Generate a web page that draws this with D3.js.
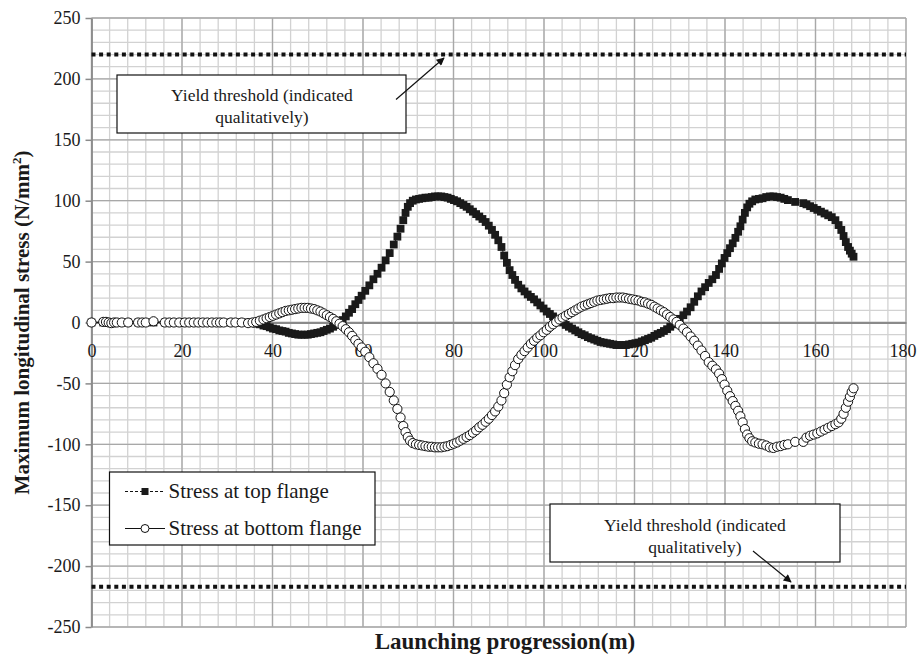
<!DOCTYPE html>
<html>
<head>
<meta charset="utf-8">
<script src="https://cdn.jsdelivr.net/npm/d3@7"></script>
<style>
  body { margin: 0; background: #fff; }
  svg text { font-family: "Liberation Serif", "Times New Roman", serif; fill: #1a1a1a; }
</style>
</head>
<body>
<svg id="chart" width="917" height="663"></svg>
<script>
// Launching progression (m) at each analysis step
const positions = [
  0, 2.6, 3.2, 3.8, 4.4, 5.0, 5.6, 6.7, 8.1, 10.3, 11.2, 12.0, 13.7, 16.2, 17.2, 18.2, 19.4, 20.6, 21.6, 22.6,
  23.6, 24.6, 25.6, 26.6, 27.6, 28.4, 29.2, 30.8, 31.8, 33.2, 34.6, 35.6, 36.4, 37.2, 38.0, 38.7, 39.4, 40.1, 40.8, 41.5,
  42.2, 42.9, 43.6, 44.3, 45.0, 45.7, 46.4, 47.1, 47.8, 48.5, 49.2, 49.9, 50.6, 51.3, 52.0, 52.7, 53.4, 54.1, 54.8, 55.5,
  56.2, 56.9, 57.6, 58.3, 59.0, 59.7, 60.5, 61.4, 62.3, 63.2, 64.1, 65.0, 65.9, 66.8, 67.6, 68.3, 68.9, 69.4, 69.9, 70.4,
  71.0, 71.7, 72.4, 73.1, 73.8, 74.5, 75.2, 75.9, 76.6, 77.3, 78.0, 78.7, 79.4, 80.1, 80.8, 81.5, 82.2, 82.9, 83.6, 84.3,
  85.0, 85.7, 86.4, 87.1, 87.8, 88.5, 89.2, 89.9, 90.6, 91.2, 91.8, 92.4, 93.0, 93.6, 94.3, 95.0, 95.7, 96.4, 97.1, 97.8,
  98.5, 99.2, 99.9, 100.6, 101.3, 102.0, 102.7, 103.4, 104.1, 104.8, 105.5, 106.2, 106.9, 107.6, 108.3, 109.0, 109.7, 110.4, 111.1, 111.8,
  112.5, 113.2, 113.9, 114.6, 115.3, 116.0, 116.7, 117.4, 118.1, 118.8, 119.5, 120.2, 120.9, 121.6, 122.3, 123.0, 123.7, 124.4, 125.1, 125.8,
  126.5, 127.2, 127.9, 128.6, 129.3, 130.0, 130.8, 131.6, 132.4, 133.2, 134.0, 134.8, 135.6, 136.4, 137.2, 138.0, 138.7, 139.3, 139.9, 140.5,
  141.1, 141.7, 142.3, 142.9, 143.4, 143.9, 144.4, 144.9, 145.4, 146.0, 146.7, 147.5, 148.3, 149.1, 149.9, 150.7, 151.5, 152.3, 153.1, 153.9,
  155.5, 157.3, 158.0, 158.8, 159.6, 160.4, 161.2, 162.0, 162.8, 163.6, 164.4, 165.1, 165.7, 166.2, 166.7, 167.2, 167.6, 168.0, 168.4
];

// Maximum longitudinal stress at the top flange (N/mm²)
const topFlange = [
  0, 0, 0, 0, 0, 0, 0, 0, 0, 0, 0, 0, 0, 0, 0, 0, 0, 0, 0, 0,
  0, 0, 0, 0, 0, 0, 0, 0, 0, 0, 0, -0.5, -1, -1.5, -2.5, -3, -4, -5, -5.5, -6.5,
  -7, -7.5, -8.5, -9, -9.5, -10, -10, -10, -10, -9.5, -9, -8.5, -8, -7, -6, -5, -3.5, -2, 0, 2,
  5, 8, 11, 15, 18.5, 22, 26, 30.5, 35.5, 40, 45, 51, 57, 64, 70.5, 77, 84, 90, 95, 98,
  100, 101, 101.5, 102, 102.5, 102.5, 103, 103.5, 103.5, 103.5, 103, 102.5, 101.5, 100.5, 99.5, 98, 96.5, 95, 93, 91,
  89, 87, 85, 82.5, 79.5, 76, 72, 67.5, 62, 55, 49, 43, 39, 35, 31, 28, 25.5, 23, 21, 19,
  16.5, 14, 11.5, 9, 7, 5, 3, 1.5, 0, -2, -3.5, -5, -6.5, -8, -9.5, -10.5, -12, -13, -14, -15,
  -16, -16.5, -17, -17.5, -18, -18.5, -18.5, -18.5, -18.5, -18, -17.5, -17, -16.5, -15.5, -14.5, -13.5, -12.5, -11, -9.5, -8.5,
  -7, -5.5, -3.5, -1.5, 0.5, 3, 6, 9, 12.5, 17, 21.5, 25.5, 29, 32.5, 35.5, 39, 44, 48.5, 53, 57,
  61, 65, 69.5, 74.5, 79, 84.5, 90, 94.5, 97.5, 99.5, 101, 101.5, 102, 103, 103.5, 103.5, 103, 102.5, 101.5, 100.5,
  99, 98, 97, 95.5, 94, 92.5, 91, 89.5, 88, 86.5, 84, 80, 76, 71, 66, 62, 59, 56.5, 54
];

// Maximum longitudinal stress at the bottom flange (N/mm²)
const bottomFlange = [
  0, 0.5, 0.5, 0, -0.5, 0, 0, 0, 0, 0, 0, 0, 1, 0, 0, 0, 0, 0, 0, 0,
  0, 0, 0, 0, 0, 0, 0, 0, 0, 0, -0.5, 0, 0.5, 1.5, 2.5, 3.5, 4.5, 5.5, 6.5, 7.5,
  8.5, 9.5, 10, 10.5, 11, 11.5, 12, 12, 12, 11.5, 11, 10, 9, 7.5, 6, 4.5, 3, 1, -1, -3,
  -5.5, -8, -11, -14.5, -17.5, -20.5, -24, -28.5, -33.5, -38, -43, -50, -57, -64, -71, -78, -85, -90, -94, -97,
  -99, -100, -100.5, -101, -101.5, -102, -102, -102.5, -102.5, -102.5, -102, -101.5, -100.5, -99.5, -98.5, -97, -95.5, -94, -92.5, -90.5,
  -88.5, -86, -84, -81.5, -79, -76, -73, -69, -64, -58, -51, -45, -40, -35, -30, -26.5, -23.5, -20.5, -17.5, -15,
  -12.5, -10.5, -8, -6, -3.5, -1.5, 0.5, 2.5, 4, 5.5, 7, 8.5, 10, 11.5, 13, 14, 15, 16, 17, 18,
  18.5, 19, 19.5, 20, 20, 20.5, 20.5, 20.5, 20, 19.5, 19, 18.5, 18, 17, 16.5, 15.5, 14.5, 13, 11.5, 10,
  8.5, 6.5, 4.5, 2.5, 0.5, -2, -5, -8, -11.5, -15, -19, -23, -27.5, -32.5, -35.5, -38.5, -42, -46.5, -51, -56,
  -60.5, -64.5, -68.5, -72.5, -77, -82, -87.5, -92, -95, -97.5, -98.5, -99.5, -100, -101, -102.5, -103, -102, -101.5, -100.5, -100,
  -98, -98, -94.5, -93, -92, -91, -89.5, -88, -86.5, -85, -83.5, -82, -79, -75, -70, -65, -61, -57, -54
];

const xTicks = [0, 20, 40, 60, 80, 100, 120, 140, 160, 180];
const yTicks = [250, 200, 150, 100, 50, 0, -50, -100, -150, -200, -250];
const yieldLevels = [220, -217];
const seriesNames = ["Stress at top flange", "Stress at bottom flange"];
const yieldNote = ["Yield threshold (indicated", "qualitatively)"];
const xTitle = "Launching progression(m)";

const SERIF = '"Liberation Serif", "Times New Roman", serif';
const svg = d3.select("#chart");
const plot = { left: 91.5, right: 906, top: 18, bottom: 627 };
const x = d3.scaleLinear().domain([0, 180]).range([plot.left, plot.right]);
const y = d3.scaleLinear().domain([-250, 250]).range([plot.bottom, plot.top]);

svg.append("rect").attr("width", 917).attr("height", 663).attr("fill", "#fff");

// arrowhead for the callouts
svg.append("defs").append("marker")
  .attr("id", "arrowHead").attr("viewBox", "0 0 10 10")
  .attr("refX", 9).attr("refY", 5)
  .attr("markerWidth", 10).attr("markerHeight", 8)
  .attr("markerUnits", "userSpaceOnUse")
  .attr("orient", "auto")
  .append("path").attr("d", "M0,0 L10,5 L0,10 Z").attr("fill", "#111");

// grid: minor then major lines
const grid = svg.append("g");
grid.selectAll(".vmin").data(d3.range(0, 181, 4)).join("line")
  .attr("x1", d => x(d)).attr("x2", d => x(d))
  .attr("y1", plot.top).attr("y2", plot.bottom)
  .attr("stroke", "#d2d2d2").attr("stroke-width", 1.3);
grid.selectAll(".hmin").data(d3.range(-250, 251, 10)).join("line")
  .attr("x1", plot.left).attr("x2", plot.right)
  .attr("y1", d => y(d)).attr("y2", d => y(d))
  .attr("stroke", "#d2d2d2").attr("stroke-width", 1.3);
grid.selectAll(".vmaj").data(xTicks).join("line")
  .attr("x1", d => x(d)).attr("x2", d => x(d))
  .attr("y1", plot.top).attr("y2", plot.bottom)
  .attr("stroke", "#a8a8a8").attr("stroke-width", 1.3);
grid.selectAll(".hmaj").data(yTicks).join("line")
  .attr("x1", plot.left).attr("x2", plot.right)
  .attr("y1", d => y(d)).attr("y2", d => y(d))
  .attr("stroke", "#a8a8a8").attr("stroke-width", 1.3);

// axes (plain hyphen for negatives)
const fmt = d => String(d);
const yAxis = svg.append("g").attr("transform", `translate(${plot.left},0)`)
  .call(d3.axisLeft(y).tickValues(yTicks).tickFormat(fmt).tickSize(6).tickSizeOuter(0).tickPadding(5));
yAxis.attr("font-family", null);
yAxis.select(".domain").attr("stroke", "#8a8a8a").attr("stroke-width", 1.8);
yAxis.selectAll(".tick line").attr("stroke", "#8a8a8a").attr("stroke-width", 1.5);
yAxis.selectAll("text").style("font-family", SERIF).style("font-size", "18px").attr("fill", "#1a1a1a");

const xAxis = svg.append("g").attr("transform", `translate(0,${y(0)})`)
  .call(d3.axisBottom(x).tickValues(xTicks).tickFormat(fmt).tickSize(0).tickSizeOuter(0).tickPadding(22));
xAxis.attr("font-family", null);
xAxis.select(".domain").attr("stroke", "#8a8a8a").attr("stroke-width", 1.8);
xAxis.selectAll("text").style("font-family", SERIF).style("font-size", "18px").attr("fill", "#1a1a1a");
// keep the last label inside the frame
xAxis.selectAll(".tick").filter(d => d === 180).select("text")
  .attr("text-anchor", "end").attr("x", 10);

// yield threshold lines
svg.selectAll(".yield").data(yieldLevels).join("line")
  .attr("x1", plot.left).attr("x2", plot.right)
  .attr("y1", d => y(d)).attr("y2", d => y(d))
  .attr("stroke", "#111").attr("stroke-width", 4).attr("stroke-dasharray", "4,3.6");

// series
const pts = (vals) => positions.map((p, i) => [p, vals[i]]);
const line = d3.line().x(d => x(d[0])).y(d => y(d[1]));
const topPts = pts(topFlange), botPts = pts(bottomFlange);

svg.append("path").attr("d", line(topPts)).attr("fill", "none")
  .attr("stroke", "#111").attr("stroke-width", 1).attr("stroke-dasharray", "3,2");
svg.append("g").selectAll("rect").data(topPts).join("rect")
  .attr("x", d => x(d[0]) - 3.9).attr("y", d => y(d[1]) - 3.9)
  .attr("width", 7.8).attr("height", 7.8).attr("fill", "#1a1a1a");

svg.append("path").attr("d", line(botPts)).attr("fill", "none")
  .attr("stroke", "#111").attr("stroke-width", 1);
svg.append("g").selectAll("circle").data(botPts).join("circle")
  .attr("cx", d => x(d[0])).attr("cy", d => y(d[1])).attr("r", 4.6)
  .attr("fill", "#fff").attr("stroke", "#111").attr("stroke-width", 1);

// callout boxes
function callout(bx, by, bw, bh, cx, base1, gap, ax1, ay1, ax2, ay2) {
  const g = svg.append("g");
  g.append("rect").attr("x", bx).attr("y", by).attr("width", bw).attr("height", bh)
    .attr("fill", "#fff").attr("stroke", "#111").attr("stroke-width", 1.2);
  g.selectAll("text").data(yieldNote).join("text")
    .attr("x", cx).attr("y", (d, i) => base1 + i * gap)
    .attr("text-anchor", "middle").style("font-size", "17.5px").text(d => d);
  g.append("line").attr("x1", ax1).attr("y1", ay1).attr("x2", ax2).attr("y2", ay2)
    .attr("stroke", "#111").attr("stroke-width", 1.2).attr("marker-end", "url(#arrowHead)");
}
callout(117, 75, 289, 58, 262, 101, 22, 396, 99.5, 444, 58);
callout(550, 504, 290, 58, 695, 531, 22, 753, 551, 791, 582);

// legend
const lg = svg.append("g");
lg.append("rect").attr("x", 109.5).attr("y", 472).attr("width", 265.5).attr("height", 73)
  .attr("fill", "#fff").attr("stroke", "#111").attr("stroke-width", 1.2);
const rows = [491.5, 528.5];
lg.append("line").attr("x1", 125).attr("x2", 165).attr("y1", rows[0]).attr("y2", rows[0])
  .attr("stroke", "#111").attr("stroke-width", 1).attr("stroke-dasharray", "3,2");
lg.append("rect").attr("x", 141.5).attr("y", rows[0] - 3.5).attr("width", 7).attr("height", 7).attr("fill", "#1a1a1a");
lg.append("line").attr("x1", 125).attr("x2", 165).attr("y1", rows[1]).attr("y2", rows[1])
  .attr("stroke", "#111").attr("stroke-width", 1);
lg.append("circle").attr("cx", 145).attr("cy", rows[1]).attr("r", 4)
  .attr("fill", "#fff").attr("stroke", "#111").attr("stroke-width", 1);
lg.selectAll("text").data(seriesNames).join("text")
  .attr("x", 168.5).attr("y", (d, i) => rows[i]).attr("dy", "0.33em")
  .style("font-size", "21px").text(d => d);

// axis titles
svg.append("text")
  .attr("transform", `translate(29,${(plot.top + plot.bottom) / 2}) rotate(-90)`)
  .attr("text-anchor", "middle").style("font-size", "21px").attr("font-weight", "bold")
  .call(t => {
    t.append("tspan").text("Maximum longitudinal stress (N/mm");
    t.append("tspan").style("font-size", "13px").attr("dy", -8).text("2");
    t.append("tspan").attr("dy", 8).text(")");
  });
svg.append("text").attr("x", 505).attr("y", 649)
  .attr("text-anchor", "middle").style("font-size", "23px").attr("font-weight", "bold")
  .text(xTitle);
</script>
</body>
</html>
